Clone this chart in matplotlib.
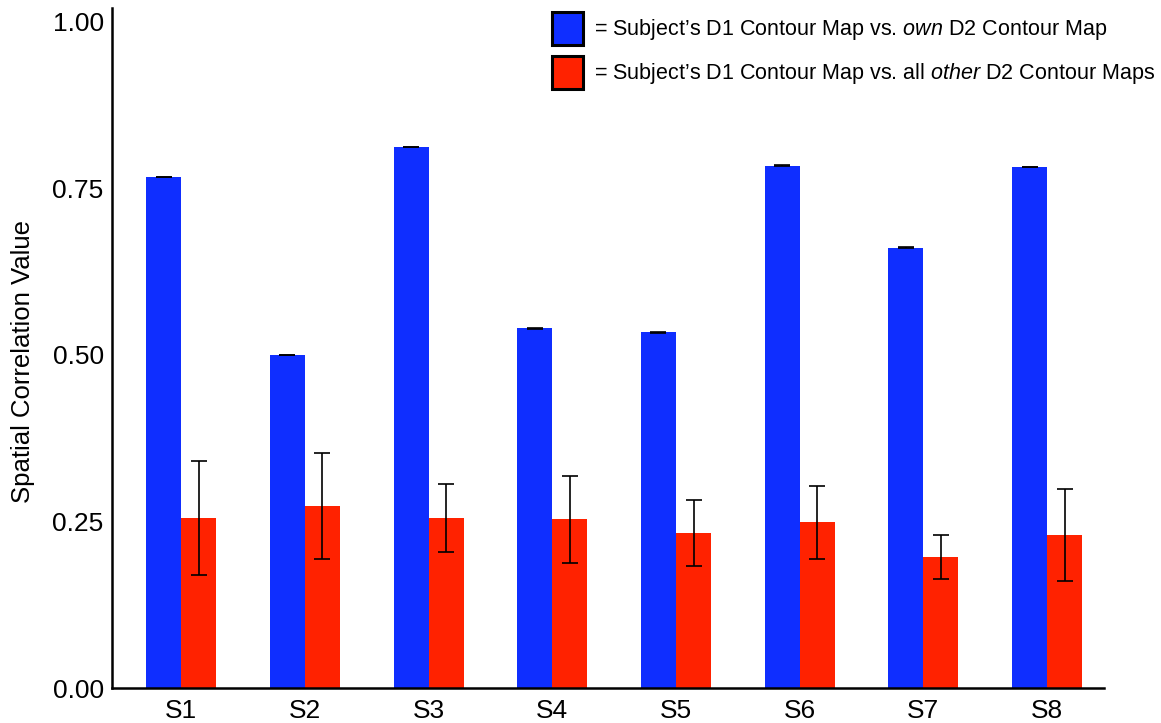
import matplotlib.pyplot as plt
import numpy as np
from matplotlib.patches import Patch

plt.rcParams['font.family'] = ['Liberation Sans', 'DejaVu Sans']
plt.rcParams['mathtext.fontset'] = 'custom'
plt.rcParams['mathtext.rm'] = 'Liberation Sans'
plt.rcParams['mathtext.it'] = 'Liberation Sans:italic'

subjects = ['S1', 'S2', 'S3', 'S4', 'S5', 'S6', 'S7', 'S8']
own = [0.767, 0.500, 0.812, 0.540, 0.534, 0.784, 0.661, 0.782]
own_err = [0.0005] * 8
other = [0.255, 0.273, 0.255, 0.253, 0.233, 0.249, 0.197, 0.230]
other_err = [0.086, 0.080, 0.051, 0.066, 0.050, 0.055, 0.033, 0.069]
yticks = [0.0, 0.25, 0.5, 0.75, 1.0]
ytick_labels = ['0.00', '0.25', '0.50', '0.75', '1.00']

blue = '#0F2EFF'
red = '#FF2200'

fig = plt.figure(figsize=(11.61, 7.23), dpi=100)
ax = fig.add_axes([0.0965, 0.0484, 0.8545, 0.9406])

x = np.arange(len(subjects))
w = 0.283
err_kw = dict(ecolor='black', elinewidth=1.2, capsize=6, capthick=1.2)
ax.bar(x - w / 2, own, w, color=blue, yerr=own_err, error_kw=err_kw)
ax.bar(x + w / 2, other, w, color=red, yerr=other_err, error_kw=err_kw)

ax.set_xlim(-0.558, 7.46)
ax.set_ylim(0, 1.021)
ax.set_xticks(x)
ax.set_xticklabels(subjects)
ax.set_yticks(yticks)
ax.set_yticklabels(ytick_labels)
ax.tick_params(axis='both', length=0, labelsize=19)
ax.tick_params(axis='y', pad=6)
ax.tick_params(axis='x', pad=8)
ax.set_ylabel('Spatial Correlation Value', fontsize=18.5)
ax.yaxis.set_label_coords(-0.0776, 0.48)

for s in ['top', 'right']:
    ax.spines[s].set_visible(False)
for s in ['left', 'bottom']:
    ax.spines[s].set_linewidth(1.8)

handles = [Patch(facecolor=blue, edgecolor='black', linewidth=2.2),
           Patch(facecolor=red, edgecolor='black', linewidth=2.2)]
labels = [r"= Subject’s D1 Contour Map vs. $\it{own}$ D2 Contour Map",
          r"= Subject’s D1 Contour Map vs. all $\it{other}$ D2 Contour Maps"]
fig.legend(handles, labels, loc='upper left', bbox_to_anchor=(0.4755, 0.9834),
           frameon=False, fontsize=15.5, handlelength=1.44, handleheight=2.0,
           handletextpad=0.5, labelspacing=0.5, borderpad=0, borderaxespad=0)

fig.savefig('out.png', dpi=100)
